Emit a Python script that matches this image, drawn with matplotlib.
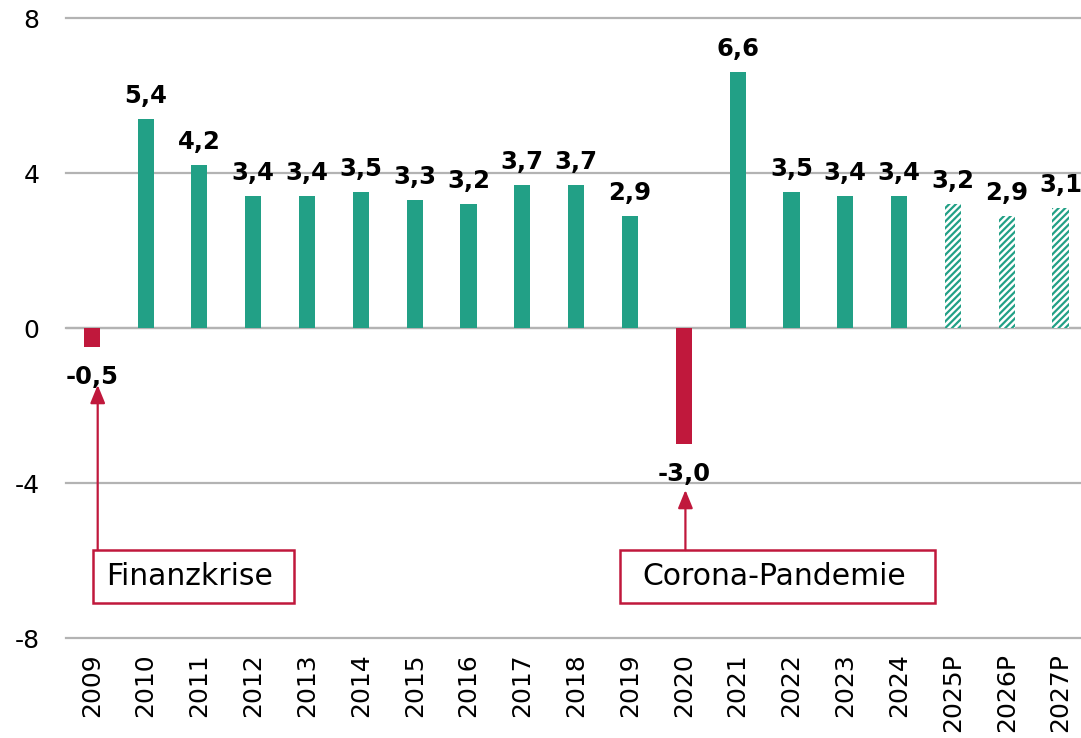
import matplotlib.pyplot as plt
from matplotlib.patches import Rectangle

years = ['2009', '2010', '2011', '2012', '2013', '2014', '2015', '2016', '2017', '2018',
         '2019', '2020', '2021', '2022', '2023', '2024', '2025P', '2026P', '2027P']
values = [-0.5, 5.4, 4.2, 3.4, 3.4, 3.5, 3.3, 3.2, 3.7, 3.7,
          2.9, -3.0, 6.6, 3.5, 3.4, 3.4, 3.2, 2.9, 3.1]
labels = ['-0,5', '5,4', '4,2', '3,4', '3,4', '3,5', '3,3', '3,2', '3,7', '3,7',
          '2,9', '-3,0', '6,6', '3,5', '3,4', '3,4', '3,2', '2,9', '3,1']
forecast = [False] * 16 + [True] * 3

green = '#22a086'
red = '#c0183c'
grid_c = '#b3b3b3'

plt.rcParams['font.family'] = ['DejaVu Sans']
plt.rcParams['hatch.linewidth'] = 1.6

fig = plt.figure(figsize=(10.81, 7.38), dpi=100)
ax = fig.add_axes([0.061, 0.1355, 0.939, 0.8401])

x = list(range(len(years)))
for i, v in enumerate(values):
    if forecast[i]:
        ax.bar(i, v, width=0.3, color='white', edgecolor=green, hatch='/////', linewidth=0, zorder=3)
    else:
        ax.bar(i, v, width=0.3, color=red if v < 0 else green, linewidth=0, zorder=3)
    if v >= 0:
        ax.annotate(labels[i], (i, v), xytext=(0, 8), textcoords='offset points',
                    ha='center', va='bottom', fontsize=17.5, fontweight='bold', zorder=4)
    else:
        ax.annotate(labels[i], (i, v), xytext=(0, -13), textcoords='offset points',
                    ha='center', va='top', fontsize=17.5, fontweight='bold', zorder=4)

ax.set_xlim(-0.48, 18.38)
ax.set_ylim(-8, 8)
ax.set_yticks([-8, -4, 0, 4, 8])
ax.set_yticklabels(['-8', '-4', '0', '4', '8'])
ax.set_xticks(x)
ax.set_xticklabels(years, rotation=90)
ax.tick_params(axis='y', length=0, pad=19, labelsize=18)
ax.tick_params(axis='x', length=0, pad=11, labelsize=18)
ax.grid(axis='y', color=grid_c, linewidth=1.6, zorder=0)
for gl in ax.get_ygridlines():
    gl.set_clip_on(False)
ax.axhline(0, color=grid_c, linewidth=1.6, zorder=1)
for s in ax.spines.values():
    s.set_visible(False)

# annotation boxes with arrows
notes = [('Finanzkrise', 0.11, -1.47, 0.02, 3.75), ('Corona-Pandemie', 11.03, -4.18, 9.81, 15.66)]
for text, ax_x, tip_y, x0, x1 in notes:
    y0, y1 = -7.1, -5.73
    ax.add_patch(Rectangle((x0, y0), x1 - x0, y1 - y0, facecolor='white',
                           edgecolor=red, linewidth=1.8, zorder=5))
    ax.text((x0 + x1) / 2 - 0.06, (y0 + y1) / 2, text, ha='center', va='center',
            fontsize=21.5, zorder=6)
    ax.annotate('', xy=(ax_x, tip_y), xytext=(ax_x, y1),
                arrowprops=dict(arrowstyle='-|>,head_length=1.1,head_width=0.45',
                                color=red, lw=1.6, shrinkA=0, shrinkB=0), zorder=5)

fig.savefig('out.png', dpi=100)
